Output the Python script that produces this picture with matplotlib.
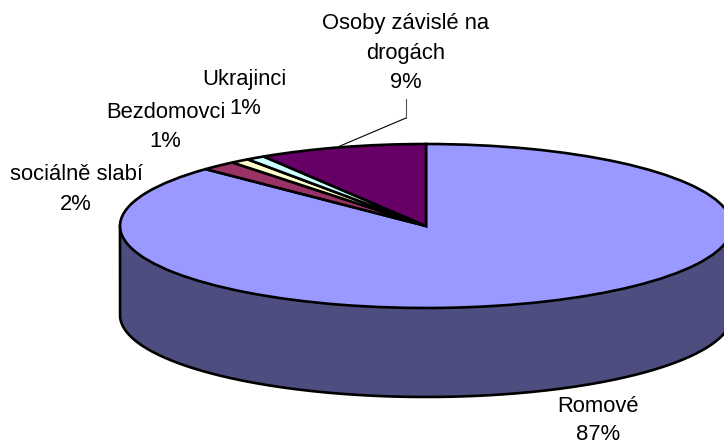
import numpy as np
import matplotlib
matplotlib.use("Agg")
import matplotlib.pyplot as plt

plt.rcParams['font.family'] = ['Liberation Sans', 'DejaVu Sans']

# slices, clockwise from 12 o'clock
categories = ['Romové', 'sociálně slabí', 'Bezdomovci', 'Ukrajinci', 'Osoby závislé na\ndrogách']
values = [87.2, 1.9, 1.0, 1.0, 8.9]
percent_labels = ['87%', '2%', '1%', '1%', '9%']
colors = ['#9999FF', '#993366', '#FFFFCC', '#CCFFFF', '#660066']
wall_color = '#4D4D80'

W, H = 724, 446
CX, CY = 426, 226      # pie centre in pixels
RX, RY = 306, 82       # squashed radii
DEPTH = 89
EDGE = 1.9

fig = plt.figure(figsize=(W / 100, H / 100), dpi=100)
ax = fig.add_axes([0, 0, 1, 1])

# top of the pie
ax.pie(values, colors=colors, startangle=90, counterclock=False,
       wedgeprops={'edgecolor': 'black', 'linewidth': EDGE, 'joinstyle': 'miter'})

# squash the circle into an ellipse
ax.set_aspect('auto')
ax.set_xlim(-CX / RX, (W - CX) / RX)
ax.set_ylim(-(H - CY) / RY, CY / RY)
ax.axis('off')

# side wall of the pie
t = np.linspace(np.pi, 2 * np.pi, 300)
d = DEPTH / RY
ax.fill_between(np.cos(t), np.sin(t), np.sin(t) - d, color=wall_color, lw=0, zorder=0.5)
ax.plot(np.r_[-1, np.cos(t)], np.r_[0, np.sin(t) - d], color='black', lw=EDGE,
        zorder=0.6, solid_joinstyle='round')


# helper: pixel position (from top left) to axes fraction
def put(x, y, s, spacing=1.5):
    ax.text(x / W, 1 - y / H, s, transform=ax.transAxes, ha='center', va='center',
            fontsize=15.8, color='black', linespacing=spacing, clip_on=False)


put(598, 420.5, categories[0] + '\n' + percent_labels[0], 1.42)
put(76, 189.5, categories[1] + '\n' + percent_labels[1])
put(165.5, 127, categories[2] + '\n' + percent_labels[2])
put(244, 79, categories[3])
put(245, 108, percent_labels[3])
put(405.5, 53, categories[4] + '\n' + percent_labels[4])

# leader line for the last label
ax.plot([340 / W, 406 / W], [1 - 146 / H, 1 - 118 / H], transform=ax.transAxes, color='black', lw=0.8)
ax.plot([406 / W, 406 / W], [1 - 118 / H, 1 - 99 / H], transform=ax.transAxes, color='#555555', lw=0.8)

fig.savefig('out.png', dpi=100, facecolor='white')
